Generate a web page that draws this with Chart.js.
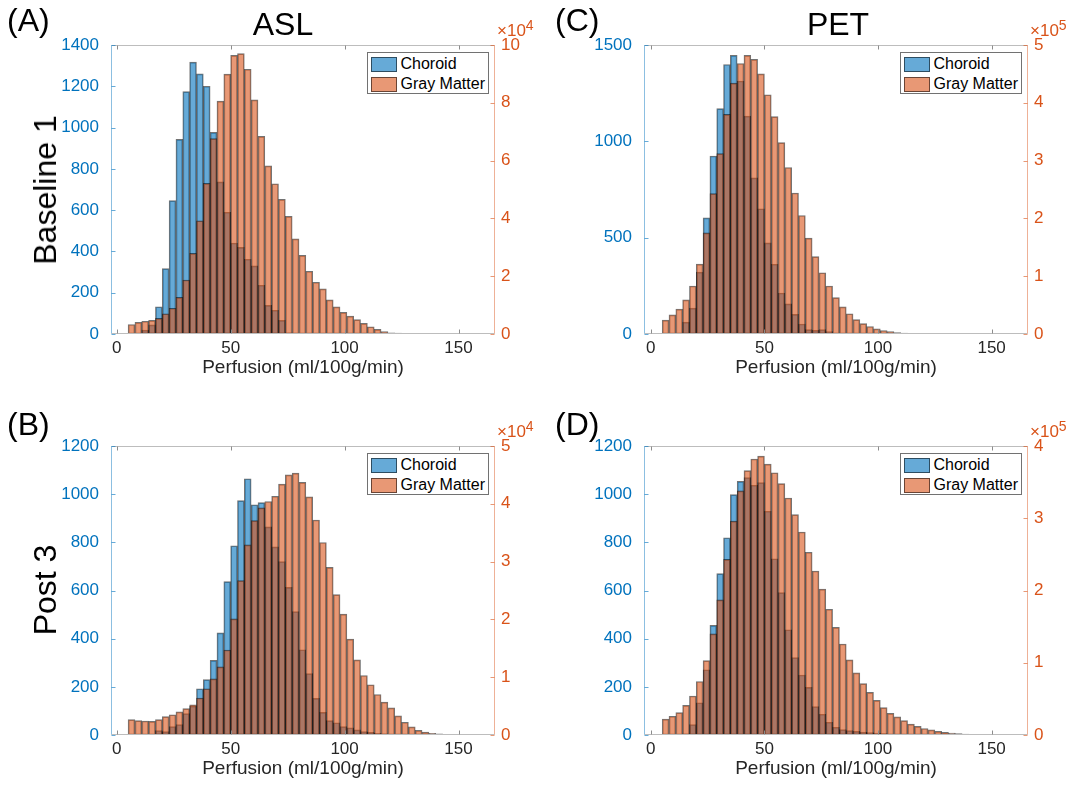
<!DOCTYPE html>
<html>
<head>
<meta charset="utf-8">
<script src="https://cdn.jsdelivr.net/npm/chart.js@4.4.1/dist/chart.umd.min.js"></script>
<style>
html,body{margin:0;padding:0;background:#fff;}
body{width:1079px;height:792px;position:relative;overflow:hidden;font-family:"Liberation Sans",Arial,Helvetica,sans-serif;}
canvas{position:absolute;}
.txt{position:absolute;white-space:nowrap;color:#000;line-height:1;z-index:5;}
.big{font-size:32px;}
.ctr{transform:translateX(-50%);}
.rot{transform:translate(-50%,-50%) rotate(-90deg);}
.exp{position:absolute;white-space:nowrap;color:#D95319;font-size:17px;line-height:17px;z-index:5;}
.exp span{font-size:14px;position:relative;top:-6px;}
.legend{position:absolute;background:#fff;border:1px solid rgba(38,38,38,0.65);box-sizing:border-box;z-index:6;}
.legend .sw{position:absolute;left:3px;width:26px;height:15px;box-sizing:border-box;border:1px solid rgba(0,0,0,0.55);}
.legend .lt{position:absolute;left:33px;font-size:16px;line-height:16px;color:#000;white-space:nowrap;}
</style>
</head>
<body>
<script>
// ---------- data ----------
const binCenters = [6.5, 9.5, 12.5, 15.5, 18.5, 21.5, 24.5, 27.5, 30.5, 33.5, 36.5, 39.5, 42.5, 45.5, 48.5, 51.5, 54.5, 57.5, 60.5, 63.5, 66.5, 69.5, 72.5, 75.5, 78.5, 81.5, 84.5, 87.5, 90.5, 93.5, 96.5, 99.5, 102.5, 105.5, 108.5, 111.5, 114.5, 117.5, 120.5, 123.5, 126.5, 129.5, 132.5, 135.5, 138.5, 141.5, 144.5, 147.5, 150.5];
const seriesNames = ["Choroid", "Gray Matter"];
const xTicks = [0, 50, 100, 150];
const xTitle = "Perfusion (ml/100g/min)";

// (A) ASL, Baseline 1
const choroidA = [0,0,19,44,132,317,646,943,1174,1317,1260,1200,977,737,590,441,420,362,330,236,139,115,66,6,5,2,1,0,0,0,0,0,0,0,0,0,0,0,0,0,0,0,0,0,0,0,0,0,0];
const grayA = [0.33,0.40,0.44,0.47,0.54,0.70,0.89,1.27,1.87,2.79,3.92,5.21,6.76,8.06,8.99,9.64,9.70,9.16,8.10,6.84,5.82,5.20,4.66,4.07,3.29,2.72,2.17,1.79,1.56,1.18,0.94,0.75,0.62,0.50,0.37,0.25,0.16,0.08,0.04,0.03,0.02,0.015,0.01,0.01,0.005,0.005,0.003,0.002,0.001];
const leftTicksA = [0,200,400,600,800,1000,1200,1400];
const rightTicksA = [0,2,4,6,8,10];

// (B) ASL, Post 3
const choroidB = [0,0,0,0,18,14,35,43,89,120,192,230,310,424,637,786,973,1064,956,965,864,781,720,613,512,354,255,152,94,60,51,35,30,21,14,11,7,5,3,2,1,0,0,0,0,0,0,0,0];
const grayB = [0.265,0.248,0.242,0.236,0.265,0.317,0.35,0.40,0.456,0.52,0.64,0.80,0.97,1.18,1.47,2.01,2.67,3.29,3.71,3.93,4.04,4.13,4.34,4.50,4.53,4.37,4.12,3.72,3.33,2.90,2.43,2.09,1.66,1.30,1.03,0.87,0.70,0.57,0.47,0.33,0.22,0.14,0.08,0.05,0.03,0.02,0.01,0.01,0.005];
const leftTicksB = [0,200,400,600,800,1000,1200];
const rightTicksB = [0,1,2,3,4,5];

// (C) PET, Baseline 1
const choroidC = [0,2,5,62,134,321,603,924,1170,1399,1446,1313,1131,810,650,473,362,213,156,102,52,23,19,23,12,5,3,2,1,0,0,0,0,0,0,0,0,0,0,0,0,0,0,0,0,0,0,0,0];
const grayC = [0.24,0.33,0.43,0.59,0.83,1.21,1.75,2.43,3.12,3.80,4.34,4.68,4.82,4.75,4.50,4.14,3.76,3.31,2.88,2.44,2.05,1.66,1.34,1.06,0.83,0.63,0.47,0.35,0.25,0.18,0.13,0.09,0.06,0.04,0.025,0.015,0.01,0.006,0.004,0.003,0.002,0.001,0,0,0,0,0,0,0];
const leftTicksC = [0,500,1000,1500];
const rightTicksC = [0,1,2,3,4,5];

// (D) PET, Post 3
const choroidD = [0,0,0,5,43,134,271,455,670,819,998,1053,1069,1037,1048,929,732,591,437,321,249,198,118,86,53,32,22,18,15,12,10,8,6,4,3,2,1,0,0,0,0,0,0,0,0,0,0,0,0];
const grayD = [0.22,0.26,0.31,0.41,0.54,0.74,1.03,1.40,1.87,2.43,2.96,3.38,3.66,3.82,3.86,3.75,3.63,3.48,3.28,3.05,2.81,2.53,2.27,2.02,1.74,1.49,1.26,1.04,0.86,0.71,0.59,0.48,0.38,0.30,0.25,0.20,0.15,0.12,0.09,0.07,0.05,0.037,0.028,0.018,0.012,0.008,0.005,0.003,0.002];
const leftTicksD = [0,200,400,600,800,1000,1200];
const rightTicksD = [0,1,2,3,4];

// ---------- styling ----------
const FONT = "'Liberation Sans', Arial, Helvetica, sans-serif";
const BLUE = '#0072BD', ORANGE = '#D95319';
const BLUE_FILL = 'rgba(0,114,189,0.6)', ORANGE_FILL = 'rgba(217,83,25,0.6)';
const EDGE = 'rgba(0,0,0,0.55)';
const X_MAX = 166;

const panels = [
  {ch: choroidA, gm: grayA, lt: leftTicksA, rt: rightTicksA, exp: 4, area: {l:111, r:495, t:45, b:334}, xMin: -2.5},
  {ch: choroidB, gm: grayB, lt: leftTicksB, rt: rightTicksB, exp: 4, area: {l:111, r:495, t:446, b:735}, xMin: -2.5},
  {ch: choroidC, gm: grayC, lt: leftTicksC, rt: rightTicksC, exp: 5, area: {l:644, r:1028, t:45, b:334}, xMin: -3},
  {ch: choroidD, gm: grayD, lt: leftTicksD, rt: rightTicksD, exp: 5, area: {l:644, r:1028, t:446, b:735}, xMin: -3}
];

const axisDecor = {
  id: 'axisDecor',
  afterDraw(chart) {
    const {ctx, chartArea: a, scales} = chart;
    const L = Math.round(a.left) + 0.5, R = Math.round(a.right) - 0.5;
    const T = Math.round(a.top) + 0.5, B = Math.round(a.bottom) - 0.5;
    ctx.save();
    ctx.lineWidth = 1;
    const seg = (x1, y1, x2, y2, c) => { ctx.strokeStyle = c; ctx.beginPath(); ctx.moveTo(x1, y1); ctx.lineTo(x2, y2); ctx.stroke(); };
    seg(L, T, R, T, '#bdbdbd');
    seg(L, B, R, B, '#bdbdbd');
    seg(L, T, L, B, 'rgba(0,114,189,0.45)');
    seg(R, T, R, B, 'rgba(217,83,25,0.45)');
    scales.x.ticks.forEach(t => {
      const px = Math.round(scales.x.getPixelForValue(t.value)) + 0.5;
      seg(px, B, px, B - 4, '#8c8c8c');
      seg(px, T, px, T + 4, '#8c8c8c');
    });
    scales.y.ticks.forEach(t => {
      const py = Math.round(scales.y.getPixelForValue(t.value)) + 0.5;
      seg(L, py, L + 4, py, 'rgba(0,114,189,0.6)');
    });
    scales.y1.ticks.forEach(t => {
      const py = Math.round(scales.y1.getPixelForValue(t.value)) + 0.5;
      seg(R, py, R - 4, py, 'rgba(217,83,25,0.6)');
    });
    ctx.restore();
  }
};

function addText(html, cls, left, top) {
  const d = document.createElement('div');
  d.className = 'txt ' + cls;
  d.innerHTML = html;
  d.style.left = left + 'px';
  d.style.top = top + 'px';
  document.body.appendChild(d);
}

function makePanel(p) {
  const a = p.area;
  const cv = document.createElement('canvas');
  const W = 111 + (a.r - a.l) + 45;
  const H = 45 + (a.b - a.t) + 56;
  cv.width = W; cv.height = H;
  cv.style.width = W + 'px'; cv.style.height = H + 'px';
  cv.style.left = (a.l - 111) + 'px';
  cv.style.top = (a.t - 45) + 'px';
  document.body.appendChild(cv);

  const chart = new Chart(cv, {
    type: 'bar',
    data: {
      datasets: [
        {label: seriesNames[0], data: binCenters.map((c, i) => ({x: c, y: p.ch[i]})), yAxisID: 'y',
         backgroundColor: BLUE_FILL, borderColor: EDGE, borderWidth: 1, grouped: false,
         barPercentage: 1, categoryPercentage: 1, order: 1, borderSkipped: false},
        {label: seriesNames[1], data: binCenters.map((c, i) => ({x: c, y: p.gm[i]})), yAxisID: 'y1',
         backgroundColor: ORANGE_FILL, borderColor: EDGE, borderWidth: 1, grouped: false,
         barPercentage: 1, categoryPercentage: 1, order: 0, borderSkipped: false}
      ]
    },
    options: {
      responsive: false, animation: false, events: [],
      layout: {padding: {top: 45, left: 0, right: 0, bottom: 0}},
      plugins: {legend: {display: false}, tooltip: {enabled: false}},
      scales: {
        x: {
          type: 'linear', min: p.xMin, max: X_MAX, offset: false,
          grid: {display: false, drawTicks: false, offset: false}, border: {display: false},
          ticks: {color: '#262626', font: {family: FONT, size: 17}, padding: 4, maxRotation: 0, autoSkip: false, callback: v => String(v)},
          afterBuildTicks: s => { s.ticks = xTicks.map(v => ({value: v})); },
          afterFit: s => { s.height = 56; },
          title: {display: true, text: xTitle, color: '#262626', font: {family: FONT, size: 19}, padding: {top: 0, bottom: 11}}
        },
        y: {
          position: 'left', min: 0, max: p.lt[p.lt.length - 1],
          grid: {display: false, drawTicks: false}, border: {display: false},
          ticks: {color: BLUE, font: {family: FONT, size: 17}, padding: 12, autoSkip: false, callback: v => String(v)},
          afterBuildTicks: s => { s.ticks = p.lt.map(v => ({value: v})); },
          afterFit: s => { s.width = 111; }
        },
        y1: {
          position: 'right', min: 0, max: p.rt[p.rt.length - 1],
          grid: {display: false, drawTicks: false}, border: {display: false},
          ticks: {color: ORANGE, font: {family: FONT, size: 17}, padding: 6, autoSkip: false, callback: v => String(v)},
          afterBuildTicks: s => { s.ticks = p.rt.map(v => ({value: v})); },
          afterFit: s => { s.width = 45; }
        }
      }
    },
    plugins: [axisDecor]
  });

  // exponent label on right axis
  const e = document.createElement('div');
  e.className = 'exp';
  e.innerHTML = '\u00d710<span>' + p.exp + '</span>';
  e.style.left = (a.r + 2) + 'px';
  e.style.top = (a.t - 23) + 'px';
  document.body.appendChild(e);

  // legend built from the chart's datasets
  const lg = document.createElement('div');
  lg.className = 'legend';
  const lw = 122, lh = 42;
  lg.style.left = (a.r - 6.5 - lw) + 'px';
  lg.style.top = (a.t + 7) + 'px';
  lg.style.width = lw + 'px';
  lg.style.height = lh + 'px';
  chart.data.datasets.forEach((ds, i) => {
    const sw = document.createElement('div');
    sw.className = 'sw';
    sw.style.top = (3.5 + i * 20) + 'px';
    sw.style.background = ds.backgroundColor;
    lg.appendChild(sw);
    const t = document.createElement('div');
    t.className = 'lt';
    t.style.top = (3 + i * 20) + 'px';
    t.textContent = ds.label;
    lg.appendChild(t);
  });
  document.body.appendChild(lg);
  return chart;
}

panels.forEach(makePanel);

// panel letters, column titles, row labels
addText('(A)', 'big', 7, 4);
addText('(B)', 'big', 7, 408);
addText('(C)', 'big', 555, 4);
addText('(D)', 'big', 555, 408);
addText('ASL', 'big ctr', 283, 8);
addText('PET', 'big ctr', 838, 8);
addText('Baseline 1', 'big rot', 45, 190);
addText('Post 3', 'big rot', 45, 590);
</script>
</body>
</html>
